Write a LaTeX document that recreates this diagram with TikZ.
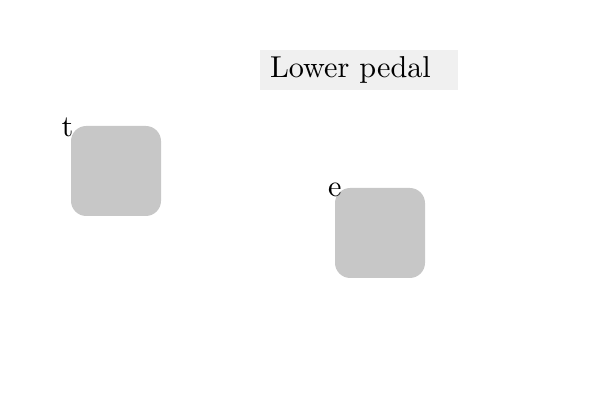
\documentclass[tikz,border=0pt]{standalone}
\usepackage{tikz}
\usetikzlibrary{positioning}

\begin{document}
\begin{tikzpicture}[
  line cap=round,
  line join=round,
  caption/.style={
    fill=black!6,
    text width=4.45cm,
    minimum height=1.0cm,
    align=left,
    inner xsep=0.25cm,
    inner ysep=3pt
  },
  pedal/.style={
    fill=black!22,
    rounded corners=0.38cm,
    minimum width=2.25cm,
    minimum height=2.25cm,
    inner sep=0pt
  },
  tag/.style={
    inner sep=0pt,
    anchor=center
  }
]

\useasboundingbox (0,0) rectangle (15,-10);

% ---------------- Title ----------------

\node[caption] (title) at (8.975,-1.75)
{\scalebox{2.15}{Lower pedal}};

% ---------------- Pedals ----------------

\node[pedal] (pedt) at (2.9,-4.275) {};
\node[tag] (labt) at ([xshift=-0.08cm,yshift=-0.04cm]pedt.north west)
{\scalebox{2.15}{t}};

\node[pedal] (pede) at (9.5,-5.825) {};
\node[tag] (labe) at ([yshift=-0.06cm]pede.north west)
{\scalebox{2.15}{e}};

\end{tikzpicture}
\end{document}
